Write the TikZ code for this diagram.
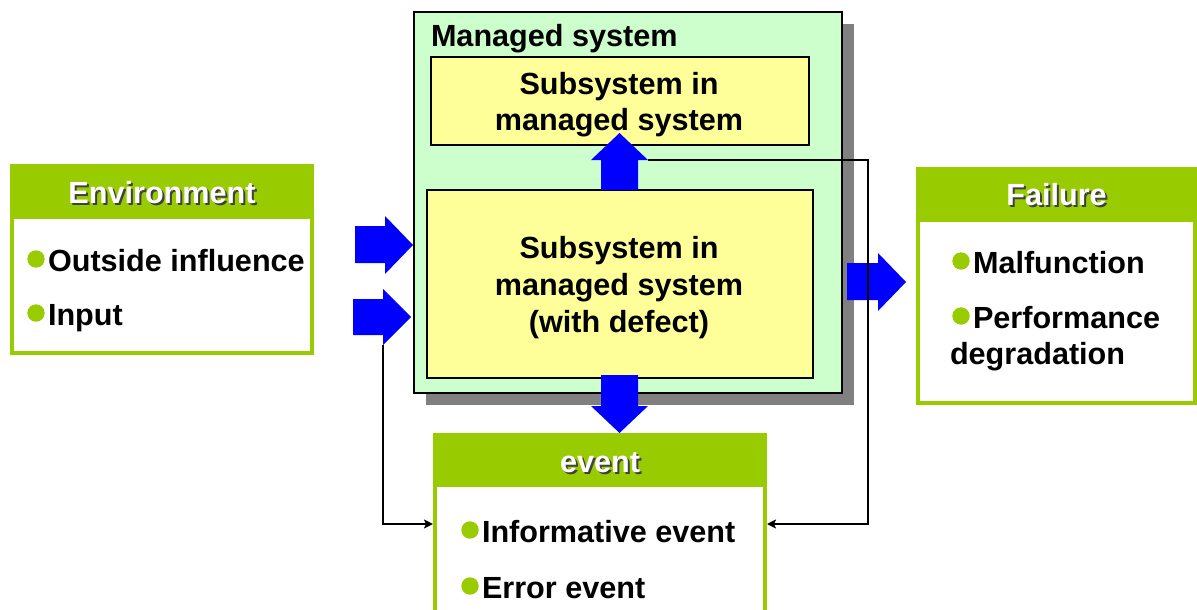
\documentclass[tikz,border=0pt]{standalone}
\usepackage{fontspec}
\setmainfont{Liberation Sans}
\usetikzlibrary{arrows.meta,calc}
\definecolor{hgreen}{HTML}{99CC00}
\definecolor{bulc}{HTML}{99CC00}
\definecolor{msfill}{HTML}{CCFFCC}
\definecolor{subfill}{HTML}{FFFF99}
\definecolor{barrow}{HTML}{0000FF}
\definecolor{shadowgray}{HTML}{808080}
\newcommand\bulletat[1]{\fill[bulc] ([xshift=-12pt,yshift=12pt]#1.base west) circle (8.7pt);}
\begin{document}
\begin{tikzpicture}[x=1pt,y=-1pt,
  txt/.style={inner sep=0pt, outer sep=0pt, font=\bfseries\fontsize{30.6}{36}\selectfont, text=black},
  htitle/.style={txt, text=white, anchor=base},
  hshadow/.style={txt, text=black!75, anchor=base},
  greenbox/.style={draw=hgreen, line width=4pt, fill=white, anchor=north west, inner sep=0pt, outer sep=0pt},
  subbox/.style={draw=black, line width=1.5pt, fill=subfill, anchor=north west, inner sep=0pt, outer sep=0pt},
  blockarrow/.style={fill=barrow, draw=none},
  thin/.style={draw=black, line width=1.6pt, -{Stealth[length=9pt,width=9pt,inset=2pt]}}
]
\useasboundingbox (0,0) rectangle (1197,610);
\fill[white] (0,0) rectangle (1197,610);

% ---------- Environment ----------
\node[greenbox, minimum width=300pt, minimum height=187pt] (env) at (12,166) {};
\fill[hgreen] (10,164) rectangle (314,219);
\node[hshadow] at (164,205) {Environment};
\node[htitle] (envt) at (162,203) {Environment};
\node[txt, anchor=base west] (out) at (48,271) {Outside influence};
\node[txt, anchor=base west] (inp) at (48,325) {Input};
\bulletat{out}
\bulletat{inp}

% ---------- Managed system ----------
\fill[shadowgray] (426,24) rectangle (854,405);
\node[draw=black, line width=1.5pt, fill=msfill, anchor=north west, inner sep=0pt, outer sep=0pt,
      minimum width=428pt, minimum height=381pt] (ms) at (414,12) {};
\node[txt, anchor=base west] (mst) at (431,47) {Managed system};
\node[subbox, minimum width=378pt, minimum height=88pt] (sub1) at (431,57) {};
\node[txt, anchor=base] (s1a) at (619,94) {Subsystem in};
\node[txt, anchor=base] (s1b) at (619,130) {managed system};
\node[subbox, minimum width=386pt, minimum height=188pt] (sub2) at (427,190) {};
\node[txt, anchor=base] (s2a) at (619,258) {Subsystem in};
\node[txt, anchor=base] (s2b) at (619,295) {managed system};
\node[txt, anchor=base] (s2c) at (619,332) {(with defect)};

% ---------- Failure ----------
\node[greenbox, minimum width=277pt, minimum height=234pt] (fail) at (918,169) {};
\fill[hgreen] (916,167) rectangle (1197,222);
\node[hshadow] at (1058.5,207) {Failure};
\node[htitle] (failt) at (1056.5,205) {Failure};
\node[txt, anchor=base west] (malf) at (973,273) {Malfunction};
\node[txt, anchor=base west] (perf) at (973,328) {Performance};
\node[txt, anchor=base west] (degr) at (950,364) {degradation};
\bulletat{malf}
\bulletat{perf}

% ---------- event ----------
\node[greenbox, minimum width=330pt, minimum height=178pt] (ev) at (435,435) {};
\fill[hgreen] (433,433) rectangle (767,487);
\node[hshadow] at (602,474) {event};
\node[htitle] (evt) at (600,472) {event};
\node[txt, anchor=base west] (inf) at (482,542) {Informative event};
\node[txt, anchor=base west] (err) at (482,598) {Error event};
\bulletat{inf}
\bulletat{err}

% ---------- block arrows ----------
\fill[blockarrow] (355,226) -- (385,226) -- (385,216) -- (413,245) -- (385,274) -- (385,263) -- (355,263) -- cycle;
\fill[blockarrow] (353,299) -- (383,299) -- (383,289) -- (411,317) -- (383,345) -- (383,335) -- (353,335) -- cycle;
\fill[blockarrow] (847,263) -- (878,263) -- (878,253) -- (906,282) -- (878,311) -- (878,300) -- (847,300) -- cycle;
\fill[blockarrow] (601,190) -- (601,160) -- (591,160) -- (619.5,133) -- (648,160) -- (638,160) -- (638,190) -- cycle;
\fill[blockarrow] (601,375) -- (638,375) -- (638,406) -- (648,406) -- (619.5,433) -- (591,406) -- (601,406) -- cycle;

\coordinate (inbase) at (383,345);
\coordinate (upbase) at (648,160);
\coordinate (bendR) at (868,160);

% ---------- thin connectors ----------
\path[thin] (inbase) |- ([xshift=-2pt]ev.west);
\path[thin] (upbase) -- (bendR) |- ([xshift=2pt]ev.east);
\end{tikzpicture}
\end{document}
